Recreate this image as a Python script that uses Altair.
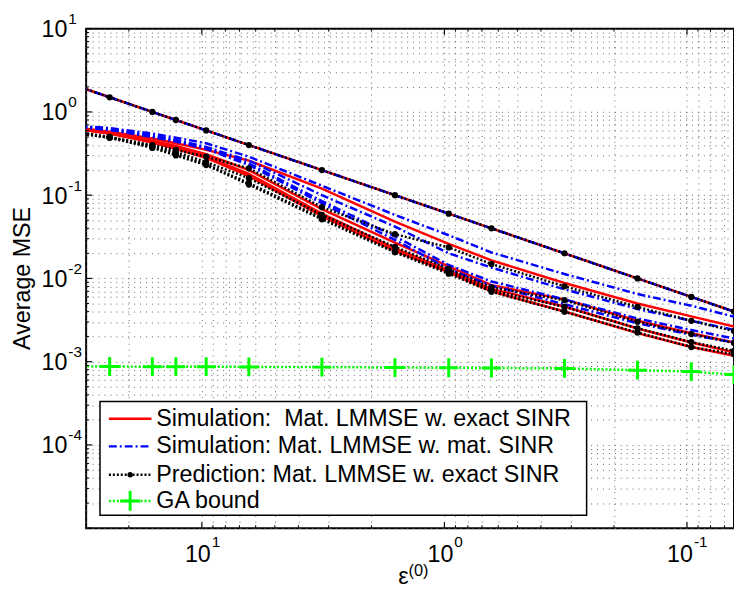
import altair as alt
import pandas as pd
import math

# ---------------- data ----------------
X_VALUES = [32, 24, 16, 12.8, 9.6, 6.4, 3.2, 1.6, 0.96, 0.64, 0.32, 0.16, 0.096, 0.064]

COMMON = [2.0, 1.5, 1.0, 0.8, 0.6, 0.4, 0.2, 0.1, 0.06, 0.04, 0.02, 0.01, 0.006, 0.004]

SIM_EXACT = [
    COMMON,
    [0.64, 0.58, 0.48, 0.42, 0.35, 0.26, 0.12, 0.048, 0.026, 0.0165, 0.0088, 0.0050, 0.0035, 0.00265],
    [0.63, 0.56, 0.45, 0.39, 0.31, 0.20, 0.068, 0.027, 0.0140, 0.0083, 0.0056, 0.0031, 0.0022, 0.0017],
    [0.62, 0.55, 0.44, 0.37, 0.29, 0.18, 0.060, 0.023, 0.0125, 0.0075, 0.0046, 0.0025, 0.0017, 0.0013],
    [0.62, 0.55, 0.43, 0.36, 0.28, 0.17, 0.056, 0.0215, 0.0118, 0.0070, 0.0040, 0.0022, 0.0015, 0.00118],
]
SIM_MAT = [
    COMMON,
    [0.68, 0.64, 0.55, 0.49, 0.42, 0.29, 0.13, 0.058, 0.033, 0.0205, 0.0113, 0.0065, 0.0047, 0.00347],
    [0.67, 0.62, 0.52, 0.46, 0.38, 0.26, 0.10, 0.042, 0.020, 0.0135, 0.0074, 0.0043, 0.0031, 0.00241],
    [0.66, 0.61, 0.51, 0.45, 0.37, 0.24, 0.085, 0.032, 0.0145, 0.0092, 0.0056, 0.0033, 0.0024, 0.0019],
    [0.66, 0.61, 0.50, 0.44, 0.36, 0.23, 0.080, 0.029, 0.0130, 0.0082, 0.0049, 0.0029, 0.0021, 0.0017],
]
PREDICTION = [
    COMMON,
    [0.57, 0.50, 0.40, 0.35, 0.29, 0.21, 0.0718, 0.034, 0.0236, 0.0149, 0.00804, 0.00455, 0.0031, 0.00233],
    [0.56, 0.50, 0.39, 0.33, 0.25, 0.16, 0.058, 0.024, 0.0130, 0.0078, 0.00547, 0.00302, 0.00215, 0.00168],
    [0.56, 0.49, 0.38, 0.31, 0.235, 0.14, 0.053, 0.021, 0.0120, 0.0072, 0.00455, 0.00252, 0.00172, 0.00135],
    [0.55, 0.49, 0.37, 0.30, 0.23, 0.134, 0.0513, 0.0206, 0.0114, 0.0069, 0.00398, 0.00224, 0.0015, 0.00123],
]
GA_BOUND = [8.8e-4, 8.75e-4, 8.7e-4, 8.7e-4, 8.7e-4, 8.65e-4, 8.6e-4, 8.5e-4, 8.45e-4, 8.4e-4,
            8.3e-4, 7.9e-4, 7.6e-4, 7.0e-4]

LEGEND_LABELS = [
    "Simulation:\u00a0 Mat. LMMSE w. exact SINR",
    "Simulation: Mat. LMMSE w. mat. SINR",
    "Prediction: Mat. LMMSE w. exact SINR",
    "GA bound",
]
X_LABEL = "\u03b5"
X_LABEL_SUP = "(0)"
Y_LABEL = "Average MSE"

X_DECADES = [10, 1, 0.1]
X_EXPONENTS = ["1", "0", "-1"]
Y_DECADES = [10, 1, 0.1, 0.01, 0.001, 0.0001]
Y_EXPONENTS = ["1", "0", "-1", "-2", "-3", "-4"]

X_MIN, X_MAX = 0.064, 30
X_GRID = [k * 10.0 ** e for e in (-2, -1, 0, 1) for k in range(1, 10)]
X_GRID = [v for v in X_GRID if X_MIN <= v <= X_MAX]
Y_GRID = [k * 10.0 ** e for e in (-5, -4, -3, -2, -1, 0) for k in range(1, 10)] + [10.0]

# ---------------- frames ----------------
def family_frame(curves, name):
    rows = []
    for ci, ys in enumerate(curves):
        for x, y in zip(X_VALUES, ys):
            rows.append({"x": x, "y": y, "curve": f"{name}{ci}"})
    return pd.DataFrame(rows)

df_red = family_frame(SIM_EXACT, "r")
df_blue = family_frame(SIM_MAT, "b")
df_black = family_frame(PREDICTION, "k")
df_green = pd.DataFrame({"x": X_VALUES, "y": GA_BOUND})
df_black_pts = df_black[df_black["x"] <= X_MAX]
df_green_pts = df_green[df_green["x"] <= X_MAX]

W, H = 655, 505
FONT = "Liberation Sans"
FS = 23.5
FS_SUP = 15.5

xs = alt.Scale(type="log", domain=[X_MIN, X_MAX], reverse=True, nice=False, zero=False)
ys = alt.Scale(type="log", domain=[1e-5, 10], nice=False, zero=False)

GRID_KW = dict(labels=False, ticks=False, domain=False, grid=True, gridDash=[1, 5],
               gridColor="#666", gridWidth=1, title=None)
X = alt.X("x:Q", scale=xs, axis=alt.Axis(values=X_GRID, **GRID_KW))
Y = alt.Y("y:Q", scale=ys, axis=alt.Axis(values=Y_GRID, **GRID_KW))

red = alt.Chart(df_red).mark_line(color="#FF0000", strokeWidth=2.5, clip=True).encode(
    x=X, y=Y, detail="curve:N")
blue = alt.Chart(df_blue).mark_line(color="#0000FF", strokeWidth=2.5, strokeDash=[8, 3, 2, 3],
                                    clip=True).encode(x="x:Q", y="y:Q", detail="curve:N")
black = alt.Chart(df_black).mark_line(color="#000000", strokeWidth=2.5, strokeDash=[2, 2],
                                      clip=True).encode(x="x:Q", y="y:Q", detail="curve:N")
black_pts = alt.Chart(df_black_pts).mark_point(shape="circle", filled=True, color="#000000",
                                               size=40, opacity=1).encode(x="x:Q", y="y:Q")
green = alt.Chart(df_green).mark_line(color="#00FF00", strokeWidth=2.5, strokeDash=[2, 2],
                                      clip=True).encode(x="x:Q", y="y:Q")
PLUS = "M-1,0L1,0M0,-1L0,1"
green_pts = alt.Chart(df_green_pts).mark_point(shape=PLUS, filled=False, color="#00FF00",
                                               size=361, strokeWidth=3, opacity=1).encode(
    x="x:Q", y="y:Q")

# inside ticks
def is_major(v):
    return abs(math.log10(v) - round(math.log10(v))) < 1e-9

ytick_df = pd.DataFrame({"y": Y_GRID, "major": [is_major(v) for v in Y_GRID]})
xtick_df = pd.DataFrame({"x": X_GRID, "major": [is_major(v) for v in X_GRID]})
yt_major = alt.Chart(ytick_df).transform_filter("datum.major").mark_rule(color="black", strokeWidth=1.2).encode(
    y="y:Q", x=alt.value(0), x2=alt.value(6))
yt_minor = alt.Chart(ytick_df).transform_filter("!datum.major").mark_rule(color="black", strokeWidth=1).encode(
    y="y:Q", x=alt.value(0), x2=alt.value(3))
xt_major_b = alt.Chart(xtick_df).transform_filter("datum.major").mark_rule(color="black", strokeWidth=1.2).encode(
    x="x:Q", y=alt.value(H), y2=alt.value(H - 6))
xt_minor_b = alt.Chart(xtick_df).transform_filter("!datum.major").mark_rule(color="black", strokeWidth=1).encode(
    x="x:Q", y=alt.value(H), y2=alt.value(H - 3))
xt_major_t = alt.Chart(xtick_df).transform_filter("datum.major").mark_rule(color="black", strokeWidth=1.2).encode(
    x="x:Q", y=alt.value(0), y2=alt.value(6))
xt_minor_t = alt.Chart(xtick_df).transform_filter("!datum.major").mark_rule(color="black", strokeWidth=1).encode(
    x="x:Q", y=alt.value(0), y2=alt.value(3))

# tick labels (10 with superscript exponent)
ylab_df = pd.DataFrame({"y": Y_DECADES, "e": Y_EXPONENTS})
ylab_base = alt.Chart(ylab_df).mark_text(text="10", align="right", baseline="alphabetic", font=FONT,
                                         fontSize=FS, dy=8.5, color="black").encode(
    y="y:Q", x=alt.value(-19))
ylab_exp = alt.Chart(ylab_df).mark_text(align="left", baseline="alphabetic", font=FONT,
                                        fontSize=FS_SUP, dy=-4.5, color="black").encode(
    y="y:Q", x=alt.value(-18), text="e:N")

xlab_df = pd.DataFrame({"x": X_DECADES, "e": X_EXPONENTS})
xlab_base1 = alt.Chart(xlab_df).transform_filter("length(datum.e) == 1").mark_text(
    text="10", align="right", baseline="alphabetic", font=FONT, fontSize=FS, dx=9, color="black").encode(
    x="x:Q", y=alt.value(H + 34.5))
xlab_exp1 = alt.Chart(xlab_df).transform_filter("length(datum.e) == 1").mark_text(
    align="left", baseline="alphabetic", font=FONT, fontSize=FS_SUP, dx=10, color="black").encode(
    x="x:Q", y=alt.value(H + 19), text="e:N")
xlab_base2 = alt.Chart(xlab_df).transform_filter("length(datum.e) == 2").mark_text(
    text="10", align="right", baseline="alphabetic", font=FONT, fontSize=FS, dx=6, color="black").encode(
    x="x:Q", y=alt.value(H + 34.5))
xlab_exp2 = alt.Chart(xlab_df).transform_filter("length(datum.e) == 2").mark_text(
    align="left", baseline="alphabetic", font=FONT, fontSize=FS_SUP, dx=7, color="black").encode(
    x="x:Q", y=alt.value(H + 19), text="e:N")

# axis titles
ytitle = alt.Chart(pd.DataFrame({"t": [Y_LABEL]})).mark_text(
    angle=270, align="center", baseline="alphabetic", font=FONT, fontSize=FS, color="black").encode(
    text="t:N", x=alt.value(-57), y=alt.value(H / 2))
xtitle = alt.Chart(pd.DataFrame({"t": [X_LABEL]})).mark_text(
    align="right", baseline="alphabetic", font=FONT, fontSize=FS, color="black").encode(
    text="t:N", x=alt.value(326), y=alt.value(H + 56))
xtitle_sup = alt.Chart(pd.DataFrame({"t": [X_LABEL_SUP]})).mark_text(
    align="left", baseline="alphabetic", font=FONT, fontSize=FS_SUP + 1, color="black").encode(
    text="t:N", x=alt.value(326), y=alt.value(H + 48))

# legend
LX0, LX1, LY0, LY1 = 14, 506, 377, 492
ROWS = [394.3, 422.3, 451, 477.5]
SX0, SX1, TX = 23, 66, 71
one = pd.DataFrame({"a": [0]})
leg_box = alt.Chart(one).mark_rect(fill="white", stroke="black", strokeWidth=1.5).encode(
    x=alt.value(LX0), x2=alt.value(LX1), y=alt.value(LY0), y2=alt.value(LY1))
leg_red = alt.Chart(one).mark_rule(color="#FF0000", strokeWidth=2.5).encode(
    x=alt.value(SX0), x2=alt.value(SX1), y=alt.value(ROWS[0]))
leg_blue = alt.Chart(one).mark_rule(color="#0000FF", strokeWidth=2.5, strokeDash=[8, 3, 2, 3]).encode(
    x=alt.value(SX0), x2=alt.value(SX1), y=alt.value(ROWS[1]))
leg_black = alt.Chart(one).mark_rule(color="#000000", strokeWidth=2.5, strokeDash=[2, 2]).encode(
    x=alt.value(SX0), x2=alt.value(SX1), y=alt.value(ROWS[2]))
leg_black_pt = alt.Chart(one).mark_point(shape="circle", filled=True, color="#000000", size=30, opacity=1).encode(
    x=alt.value((SX0 + SX1) / 2), y=alt.value(ROWS[2]))
leg_green = alt.Chart(one).mark_rule(color="#00FF00", strokeWidth=2.5, strokeDash=[2, 2]).encode(
    x=alt.value(SX0), x2=alt.value(SX1), y=alt.value(ROWS[3]))
leg_green_pt = alt.Chart(one).mark_point(shape=PLUS, filled=False, color="#00FF00", size=400,
                                         strokeWidth=3, opacity=1).encode(
    x=alt.value((SX0 + SX1) / 2), y=alt.value(ROWS[3]))
leg_texts = [
    alt.Chart(pd.DataFrame({"t": [lab]})).mark_text(
        align="left", baseline="middle", font=FONT, fontSize=FS, color="black").encode(
        text="t:N", x=alt.value(TX), y=alt.value(ROWS[i]))
    for i, lab in enumerate(LEGEND_LABELS)
]

chart = alt.layer(
    red, blue, black, black_pts, green, green_pts,
    yt_major, yt_minor, xt_major_b, xt_minor_b, xt_major_t, xt_minor_t,
    ylab_base, ylab_exp, xlab_base1, xlab_exp1, xlab_base2, xlab_exp2,
    ytitle, xtitle, xtitle_sup,
    leg_box, leg_red, leg_blue, leg_black, leg_black_pt, leg_green, leg_green_pt, *leg_texts,
).properties(
    width=W, height=H,
    autosize=alt.AutoSizeParams(type="none"),
    padding={"left": 79, "top": 17.7, "right": 0, "bottom": 61},
    background="white",
).configure_view(stroke="black", strokeWidth=2)

chart.save("out.html", embed_options={"renderer": "svg", "actions": False})
